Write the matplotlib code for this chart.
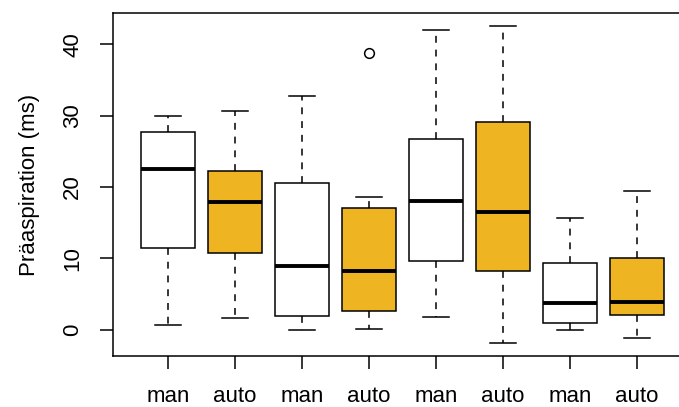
import matplotlib
matplotlib.use("Agg")
import matplotlib.pyplot as plt

plt.rcParams["font.family"] = ["Liberation Sans", "DejaVu Sans"]

# boxplot stats (ms)
labels = ["man", "auto", "man", "auto", "man", "auto", "man", "auto"]
whislo = [0.7, 1.7, 0.0, 0.05, 1.8, -1.9, 0.0, -1.1]
q1 = [11.5, 10.8, 1.9, 2.65, 9.65, 8.25, 0.95, 2.05]
med = [22.5, 17.9, 8.9, 8.25, 18.1, 16.5, 3.8, 3.9]
q3 = [27.7, 22.2, 20.5, 17.0, 26.7, 29.1, 9.3, 10.0]
whishi = [30.0, 30.6, 32.8, 18.6, 42.0, 42.6, 15.7, 19.4]
fliers = [[], [], [], [38.8], [], [], [], []]

fill_colors = ["white", "#EEB422"] * 4

stats = []
for i in range(len(labels)):
    stats.append(dict(label=labels[i], whislo=whislo[i], q1=q1[i], med=med[i],
                      q3=q3[i], whishi=whishi[i], fliers=fliers[i]))

fig = plt.figure(figsize=(6.79, 4.07), dpi=100)
ax = fig.add_axes([113 / 679, 51 / 407, 579 / 679, 343 / 407])

positions = list(range(1, len(labels) + 1))
bp = ax.bxp(stats, positions=positions, widths=0.8, patch_artist=True,
            showfliers=True, capwidths=0.4,
            boxprops=dict(edgecolor="black", linewidth=1.1),
            medianprops=dict(color="black", linewidth=2.8, solid_capstyle="butt"),
            whiskerprops=dict(color="black", linewidth=1.1, linestyle=(0, (4.5, 4.5))),
            capprops=dict(color="black", linewidth=1.1),
            flierprops=dict(marker="o", markerfacecolor="none",
                            markeredgecolor="black", markersize=7,
                            markeredgewidth=1.1))
for patch, c in zip(bp["boxes"], fill_colors):
    patch.set_facecolor(c)

ax.set_xlim(0.18, 8.82)
ax.set_ylim(-3.68, 44.38)
ax.set_yticks([0, 10, 20, 30, 40])
ax.set_yticklabels(["0", "10", "20", "30", "40"], rotation=90, va="center")
ax.set_xticks(positions)
ax.set_xticklabels(labels)
ax.tick_params(axis="both", direction="out", length=9.5, width=1.1,
               labelsize=16, pad=12)
ax.set_ylabel("Präaspiration (ms)", fontsize=16, labelpad=16)
for s in ax.spines.values():
    s.set_linewidth(1.1)

fig.savefig("out.png", dpi=100)
